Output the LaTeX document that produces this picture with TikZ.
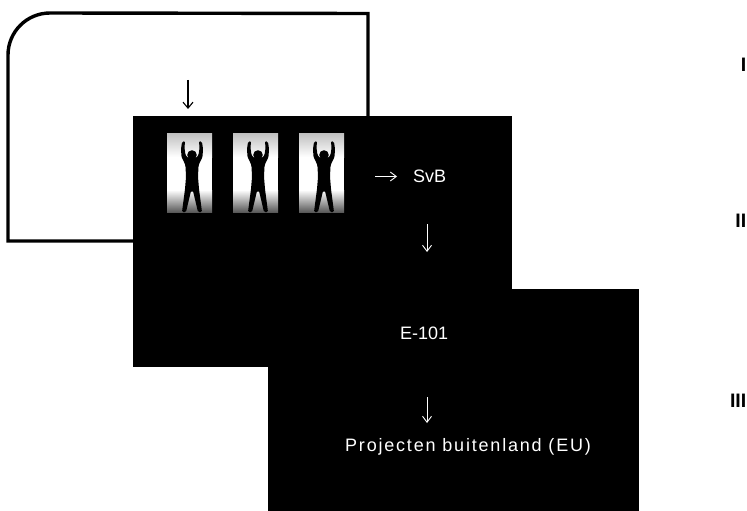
\documentclass[tikz,border=0pt]{standalone}
\usepackage{fontspec}
\setmainfont{Liberation Sans}
\newfontfamily\widefont[LetterSpace=10]{Liberation Sans}
\usetikzlibrary{arrows.meta}
\begin{document}
\begin{tikzpicture}[x=1pt,y=-1pt,
  screen/.style={fill=black},
  loopline/.style={line width=3.4pt},
  darr/.style={line width=1.1pt,-{Straight Barb[length=6pt,width=10pt]}},
  warr/.style={draw=white,line width=0.9pt,-{Straight Barb[length=6pt,width=9pt]}},
  wtext/.style={text=white,font=\fontsize{18}{20}\selectfont,inner sep=0pt},
  level/.style={font=\fontsize{19.5}{22}\selectfont\bfseries,inner sep=0pt,anchor=base east},
  person/.style={fill=black,rounded corners=1.2pt}
]
\useasboundingbox (0,0) rectangle (747,511);

% feedback loop around the first stage
\draw[loopline] (133,241) -- (8,241) -- (8,55)
  arc[start angle=180,end angle=270,radius=42] -- (368,13.5) -- (368,116);

% the two dark screens
\fill[screen] (133,116) rectangle (512,367);
\fill[screen] (268,289) rectangle (639,511);

% entry arrow into the first screen
\coordinate (in1) at (188,80);
\coordinate (in2) at (188,109);
\draw[darr] (in1) -- (in2);

% three lit doorways with a figure
\foreach \px in {167,233,299}{
  \begin{scope}[shift={(\px,133)}]
    \fill[white] (0,0) rectangle (45,79);
    \shade[top color=black!25,bottom color=white] (0,0) rectangle (45,24);
    \shade[top color=white,bottom color=black!65] (0,57) rectangle (45,79);
    \begin{scope}[shift={(25,0)}]
      \fill[person] (-10,9) -- (-7,8) -- (-7.5,15) -- (-6.5,22) -- (-4,25)
        -- (4,25) -- (6.5,22) -- (7.5,15) -- (7,8) -- (10,9) -- (11,16)
        -- (10.5,24) -- (7.5,30) -- (6.5,33) -- (6,44) -- (7,56) -- (10,79)
        -- (6,79) -- (1,58) -- (-1,58) -- (-6,79) -- (-10,79) -- (-7,56)
        -- (-6,44) -- (-6.5,33) -- (-7.5,30) -- (-10.5,24) -- (-11,16) -- cycle;
      \fill[black] (0,22) circle[radius=4.8];
    \end{scope}
  \end{scope}
}

% labels and arrows on the screens
\node[wtext,anchor=base west] (svb) at (413,182.7) {SvB};
\coordinate (a1) at (375,176.5);
\coordinate (a2) at (397,176.5);
\draw[warr] (a1) -- (a2);

\coordinate (d1) at (427,224);
\coordinate (d2) at (427,252);
\draw[warr] (d1) -- (d2);

\node[wtext,anchor=base west] (eu101) at (400,339.3) {E-101};

\coordinate (d3) at (427,397);
\coordinate (d4) at (427,423);
\draw[warr] (d3) -- (d4);

\node[wtext,anchor=base west] (proj) at (345,451.7) {\widefont Projecten buitenland (EU)};

% stage numbers
\node[level] (l1) at (746.5,72) {I};
\node[level] (l2) at (746.5,227) {II};
\node[level] (l3) at (746.5,407) {III};
\end{tikzpicture}
\end{document}
